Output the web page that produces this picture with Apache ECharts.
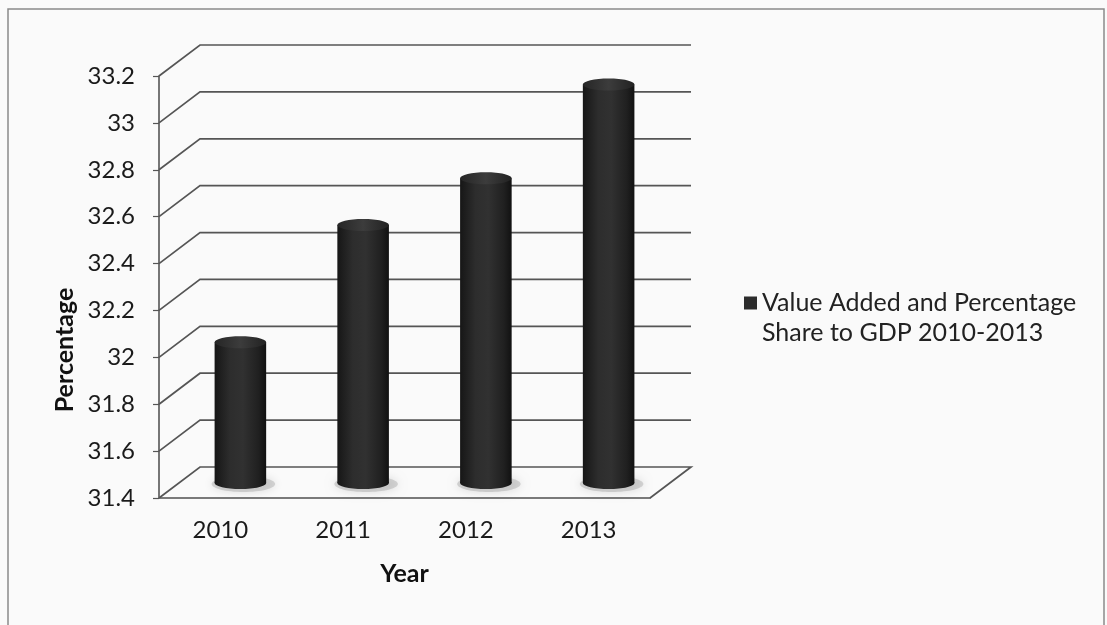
<!DOCTYPE html>
<html>
<head>
<meta charset="utf-8">
<script src="https://cdn.jsdelivr.net/npm/echarts@6/dist/echarts.min.js"></script>
<style>
  html, body { margin: 0; padding: 0; background: #fafafa; }
  #chart { width: 1107px; height: 625px; }
</style>
</head>
<body>
<div id="chart"></div>
<script>
// ---- data ----
const years = ['2010', '2011', '2012', '2013'];
const shareValues = [32.0, 32.5, 32.7, 33.1];
const yTicks = [31.4, 31.6, 31.8, 32.0, 32.2, 32.4, 32.6, 32.8, 33.0, 33.2];
const seriesName = 'Value Added and Percentage Share to GDP 2010-2013';
const xAxisName = 'Year';
const yAxisName = 'Percentage';

// ---- styling constants ----
const Y_MIN = 31.4, Y_MAX = 33.2, Y_INT = 0.2;
const DEPTH_X = 41, DEPTH_Y = -31;      // back-wall offset of the 3D box
const BAR_DX = 20, BAR_DY = -15;        // bars sit mid-depth
const FONT = 'Lato';
const WALL_COLOR = '#555555';

const chart = echarts.init(document.getElementById('chart'), null, { renderer: 'canvas' });

function wallItem(params, api) {
  const cs = params.coordSys;
  const v = api.value(1);
  const y = api.coord([0, v])[1];
  const x0 = cs.x, x1 = cs.x + cs.width;
  const pts = [[x0, y], [x0 + DEPTH_X, y + DEPTH_Y], [x1 + DEPTH_X, y + DEPTH_Y]];
  if (Math.abs(v - Y_MIN) < 1e-9) pts.push([x1, y]);
  return {
    type: 'polyline',
    shape: { points: pts },
    style: { stroke: WALL_COLOR, lineWidth: 1.7, fill: null }
  };
}

function cylinderItem(params, api) {
  const idx = api.value(0);
  const top = api.coord([idx, api.value(1)]);
  const base = api.coord([idx, Y_MIN]);
  const w = api.size([1, 0])[0] * 0.42;
  const cx = top[0] + BAR_DX;
  const ty = top[1] + BAR_DY;
  const by = base[1] + BAR_DY;
  const ry = 6;
  const bodyGrad = {
    type: 'linear', x: 0, y: 0, x2: 1, y2: 0,
    colorStops: [
      { offset: 0, color: '#161616' },
      { offset: 0.3, color: '#2d2d2d' },
      { offset: 0.55, color: '#313131' },
      { offset: 0.85, color: '#202020' },
      { offset: 1, color: '#111111' }
    ]
  };
  return {
    type: 'group',
    children: [
      {
        type: 'ellipse',
        shape: { cx: cx + 3, cy: by + 1, rx: w / 2 + 6, ry: ry + 2 },
        style: { fill: 'rgba(150,150,150,0.35)', shadowBlur: 10, shadowColor: 'rgba(0,0,0,0.35)' }
      },
      {
        type: 'ellipse',
        shape: { cx: cx, cy: by, rx: w / 2, ry: ry },
        style: { fill: bodyGrad }
      },
      {
        type: 'rect',
        shape: { x: cx - w / 2, y: ty, width: w, height: by - ty },
        style: { fill: bodyGrad }
      },
      {
        type: 'ellipse',
        shape: { cx: cx, cy: ty, rx: w / 2, ry: ry },
        style: {
          fill: {
            type: 'linear', x: 0, y: 0, x2: 1, y2: 0,
            colorStops: [
              { offset: 0, color: '#262626' },
              { offset: 0.5, color: '#3c3c3c' },
              { offset: 1, color: '#222222' }
            ]
          }
        }
      }
    ]
  };
}

const option = {
  backgroundColor: '#fafafa',
  animation: false,
  graphic: [{
    type: 'rect',
    shape: { x: 8, y: 9, width: 1096, height: 640 },
    style: { fill: null, stroke: '#8a8a8a', lineWidth: 1.5 },
    z: -10
  }],
  legend: {
    data: [seriesName],
    left: 739,
    top: 253,
    icon: 'rect',
    itemWidth: 13,
    itemHeight: 13,
    formatter: function (name) { return '\n' + name.replace('Percentage ', 'Percentage\n'); },
    textStyle: {
      fontFamily: FONT, fontSize: 25, color: '#222', lineHeight: 30
    }
  },
  grid: { left: 159, top: 76, width: 491, height: 422, containLabel: false },
  xAxis: {
    type: 'category',
    data: years,
    name: xAxisName,
    nameLocation: 'middle',
    nameGap: 63,
    nameTextStyle: { fontFamily: FONT, fontSize: 25, fontWeight: 'bold', color: '#111' },
    axisLine: { show: true, lineStyle: { color: '#7a7a7a', width: 2 } },
    axisTick: { show: false },
    axisLabel: { fontFamily: FONT, fontSize: 24, color: '#1a1a1a', margin: 20 },
    splitLine: { show: false }
  },
  yAxis: {
    type: 'value',
    min: Y_MIN, max: Y_MAX, interval: Y_INT,
    name: yAxisName,
    nameLocation: 'middle',
    nameRotate: 90,
    nameGap: 82,
    nameTextStyle: {
      fontFamily: FONT, fontSize: 25, fontWeight: 'bold', color: '#111',
      padding: [0, 126, 0, 0]
    },
    axisLine: { show: true, lineStyle: { color: '#555', width: 1.6 } },
    axisTick: { show: true, length: 6, lineStyle: { color: '#555', width: 1.2 } },
    axisLabel: { fontFamily: FONT, fontSize: 24, color: '#1a1a1a', margin: 24 },
    splitLine: { show: false }
  },
  series: [
    {
      type: 'custom',
      name: 'wall',
      silent: true,
      z: 1,
      renderItem: wallItem,
      encode: { x: 0, y: 1 },
      data: yTicks.map(v => [0, v])
    },
    {
      type: 'custom',
      name: seriesName,
      z: 3,
      itemStyle: { color: '#2c2c2c' },
      renderItem: cylinderItem,
      encode: { x: 0, y: 1 },
      data: shareValues.map((v, i) => [i, v])
    }
  ]
};
chart.setOption(option);
</script>
</body>
</html>
